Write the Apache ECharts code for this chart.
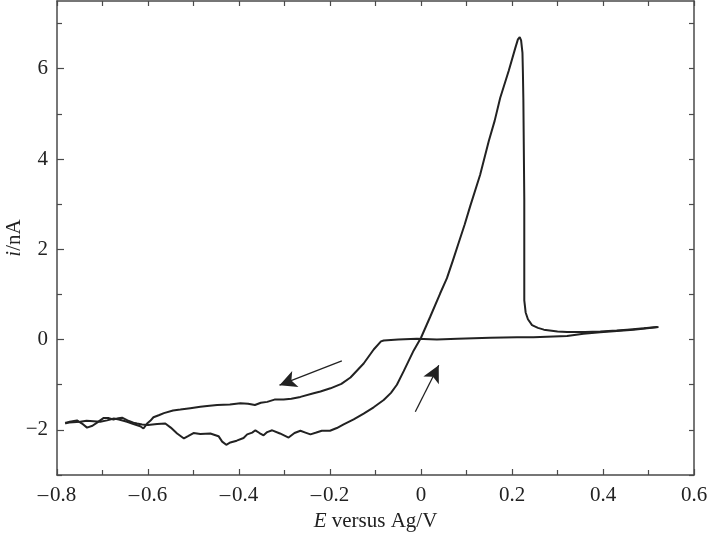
<!DOCTYPE html>
<html>
<head>
<meta charset="utf-8">
<script src="https://cdn.jsdelivr.net/npm/echarts@6/dist/echarts.min.js"></script>
<style>
  html, body { margin: 0; padding: 0; background: #fff; }
  #chart { width: 710px; height: 537px; }
</style>
</head>
<body>
<div id="chart"></div>
<script>
// reverse scan: 0.52 V back down to -0.78 V  [E, i]
var reverseScan = [
  [0.522,0.28],[0.467,0.22],[0.394,0.16],[0.357,0.13],[0.321,0.08],[0.247,0.05],[0.211,0.05],
  [0.152,0.04],[0.08,0.02],[0.035,0.0],[-0.009,0.02],[-0.05,0.0],[-0.082,-0.02],[-0.088,-0.04],
  [-0.104,-0.22],[-0.126,-0.53],[-0.155,-0.84],[-0.175,-0.98],[-0.199,-1.08],[-0.221,-1.15],
  [-0.236,-1.19],[-0.265,-1.27],[-0.285,-1.31],[-0.302,-1.33],[-0.322,-1.33],[-0.338,-1.38],
  [-0.352,-1.40],[-0.365,-1.45],[-0.38,-1.42],[-0.397,-1.41],[-0.42,-1.44],[-0.448,-1.45],
  [-0.47,-1.47],[-0.485,-1.49],[-0.507,-1.52],[-0.529,-1.55],[-0.545,-1.57],[-0.565,-1.63],
  [-0.575,-1.67],[-0.588,-1.72],[-0.595,-1.80],[-0.602,-1.86],[-0.61,-1.97],[-0.617,-1.92],
  [-0.632,-1.87],[-0.646,-1.82],[-0.664,-1.77],[-0.675,-1.75],[-0.69,-1.79],[-0.705,-1.82],
  [-0.72,-1.81],[-0.735,-1.80],[-0.749,-1.82],[-0.765,-1.83],[-0.782,-1.84]
];
// forward scan: -0.78 V up to 0.52 V
var forwardScan = [
  [-0.782,-1.86],[-0.772,-1.82],[-0.756,-1.79],[-0.745,-1.86],[-0.734,-1.95],[-0.722,-1.91],
  [-0.712,-1.84],[-0.698,-1.74],[-0.686,-1.74],[-0.676,-1.77],[-0.665,-1.74],[-0.657,-1.73],
  [-0.645,-1.79],[-0.632,-1.84],[-0.624,-1.86],[-0.613,-1.88],[-0.6,-1.89],[-0.58,-1.87],
  [-0.562,-1.86],[-0.55,-1.95],[-0.536,-2.08],[-0.521,-2.19],[-0.512,-2.14],[-0.5,-2.07],
  [-0.485,-2.09],[-0.463,-2.08],[-0.445,-2.14],[-0.437,-2.26],[-0.428,-2.33],[-0.419,-2.28],
  [-0.405,-2.24],[-0.39,-2.18],[-0.382,-2.10],[-0.371,-2.06],[-0.364,-2.01],[-0.355,-2.07],
  [-0.346,-2.12],[-0.338,-2.05],[-0.327,-2.01],[-0.31,-2.08],[-0.291,-2.17],[-0.278,-2.07],
  [-0.265,-2.02],[-0.254,-2.06],[-0.243,-2.10],[-0.23,-2.06],[-0.218,-2.02],[-0.2,-2.02],
  [-0.185,-1.96],[-0.17,-1.88],[-0.148,-1.77],[-0.126,-1.64],[-0.104,-1.50],[-0.082,-1.34],
  [-0.066,-1.18],[-0.053,-1.0],[-0.038,-0.70],[-0.016,-0.24],[0.0,0.04],[0.02,0.50],
  [0.042,1.02],[0.057,1.36],[0.07,1.75],[0.083,2.15],[0.096,2.55],[0.108,2.95],[0.13,3.65],
  [0.149,4.4],[0.162,4.85],[0.174,5.35],[0.193,5.96],[0.207,6.45],[0.213,6.65],[0.217,6.70],
  [0.220,6.63],[0.223,6.35],[0.224,5.9],[0.225,5.3],[0.226,4.2],[0.227,3.1],[0.227,1.6],
  [0.227,0.87],[0.230,0.6],[0.235,0.45],[0.244,0.32],[0.257,0.26],[0.270,0.22],[0.3,0.18],
  [0.321,0.17],[0.36,0.17],[0.394,0.18],[0.43,0.2],[0.453,0.22],[0.49,0.25],[0.519,0.28]
];
// scan direction arrows: [tail, head]
var arrowReverse = [[-0.174,-0.473],[-0.311,-1.01]];
var arrowForward = [[-0.0125,-1.60],[0.039,-0.569]];

var yMajor = [-2,0,2,4,6];
var yMinor = [-3,-1,1,3,5,7];
var yAll = [-3,-2,-1,0,1,2,3,4,5,6,7];

var serif = 'Liberation Serif';
var ink = '#222';
var frame = '#4a4a4a';

function minusX(v) { return v < 0 ? '\u2013\u200a' + (-v) : String(v); }
function minusY(v) { return v < 0 ? '\u2212' + (-v) : String(v); }

var chart = echarts.init(document.getElementById('chart'));

var lineAxis = { show: true, onZero: false, lineStyle: { color: frame, width: 1.5 } };

var option = {
  animation: false,
  grid: { left: 57, right: 16, top: 1, bottom: 62, outerBoundsMode: 'none' },
  xAxis: [
    {
      type: 'value', min: -0.8, max: 0.6, interval: 0.2, position: 'bottom',
      axisLine: lineAxis,
      axisTick: { inside: true, length: 6, lineStyle: { color: frame, width: 1.2 } },
      minorTick: { show: true, splitNumber: 2, length: 5, lineStyle: { color: frame, width: 1.2 } },
      splitLine: { show: false },
      axisLabel: { margin: 10, color: ink, fontSize: 21, fontFamily: serif, formatter: minusX },
      name: '{it|E} versus Ag/V',
      nameLocation: 'middle',
      nameGap: 36,
      nameMoveOverlap: false,
      nameTextStyle: {
        color: ink, fontSize: 21, fontFamily: serif,
        rich: { it: { fontStyle: 'italic', fontSize: 21, fontFamily: serif, color: ink } }
      }
    },
    {
      type: 'value', min: -0.8, max: 0.6, interval: 0.2, position: 'top',
      axisLine: lineAxis,
      axisTick: { inside: true, length: 5, lineStyle: { color: frame, width: 1.2 } },
      minorTick: { show: true, splitNumber: 2, length: 5, lineStyle: { color: frame, width: 1.2 } },
      splitLine: { show: false },
      axisLabel: { show: false }
    }
  ],
  yAxis: [
    {
      type: 'value', min: -3, max: 7.5, position: 'left',
      axisLine: lineAxis,
      axisTick: { inside: true, length: 7, customValues: yMajor, lineStyle: { color: frame, width: 1.2 } },
      splitLine: { show: false },
      axisLabel: { margin: 9, color: ink, fontSize: 21, fontFamily: serif, customValues: yMajor, formatter: minusY },
      name: '{it|i}/nA',
      nameLocation: 'middle',
      nameGap: 32,
      nameMoveOverlap: false,
      nameTextStyle: {
        color: ink, fontSize: 21, fontFamily: serif,
        rich: { it: { fontStyle: 'italic', fontSize: 21, fontFamily: serif, color: ink } }
      }
    },
    {
      type: 'value', min: -3, max: 7.5, position: 'left',
      axisLine: { show: false, onZero: false },
      axisTick: { inside: true, length: 5, customValues: yMinor, lineStyle: { color: frame, width: 1.2 } },
      splitLine: { show: false },
      axisLabel: { show: false }
    },
    {
      type: 'value', min: -3, max: 7.5, position: 'right',
      axisLine: lineAxis,
      axisTick: { inside: true, length: 5, customValues: yAll, lineStyle: { color: frame, width: 1.2 } },
      splitLine: { show: false },
      axisLabel: { show: false }
    }
  ],
  series: [
    {
      name: 'reverse', type: 'line', data: reverseScan, showSymbol: false,
      lineStyle: { color: ink, width: 2 },
      markLine: {
        silent: true, symbol: ['none', 'arrow'], symbolSize: [13, 17],
        label: { show: false },
        lineStyle: { color: ink, width: 1.3, type: 'solid' },
        data: [
          [{ coord: arrowReverse[0] }, { coord: arrowReverse[1] }],
          [{ coord: arrowForward[0] }, { coord: arrowForward[1] }]
        ]
      }
    },
    {
      name: 'forward', type: 'line', data: forwardScan, showSymbol: false,
      lineStyle: { color: ink, width: 2 }
    }
  ]
};

chart.setOption(option);
</script>
</body>
</html>
